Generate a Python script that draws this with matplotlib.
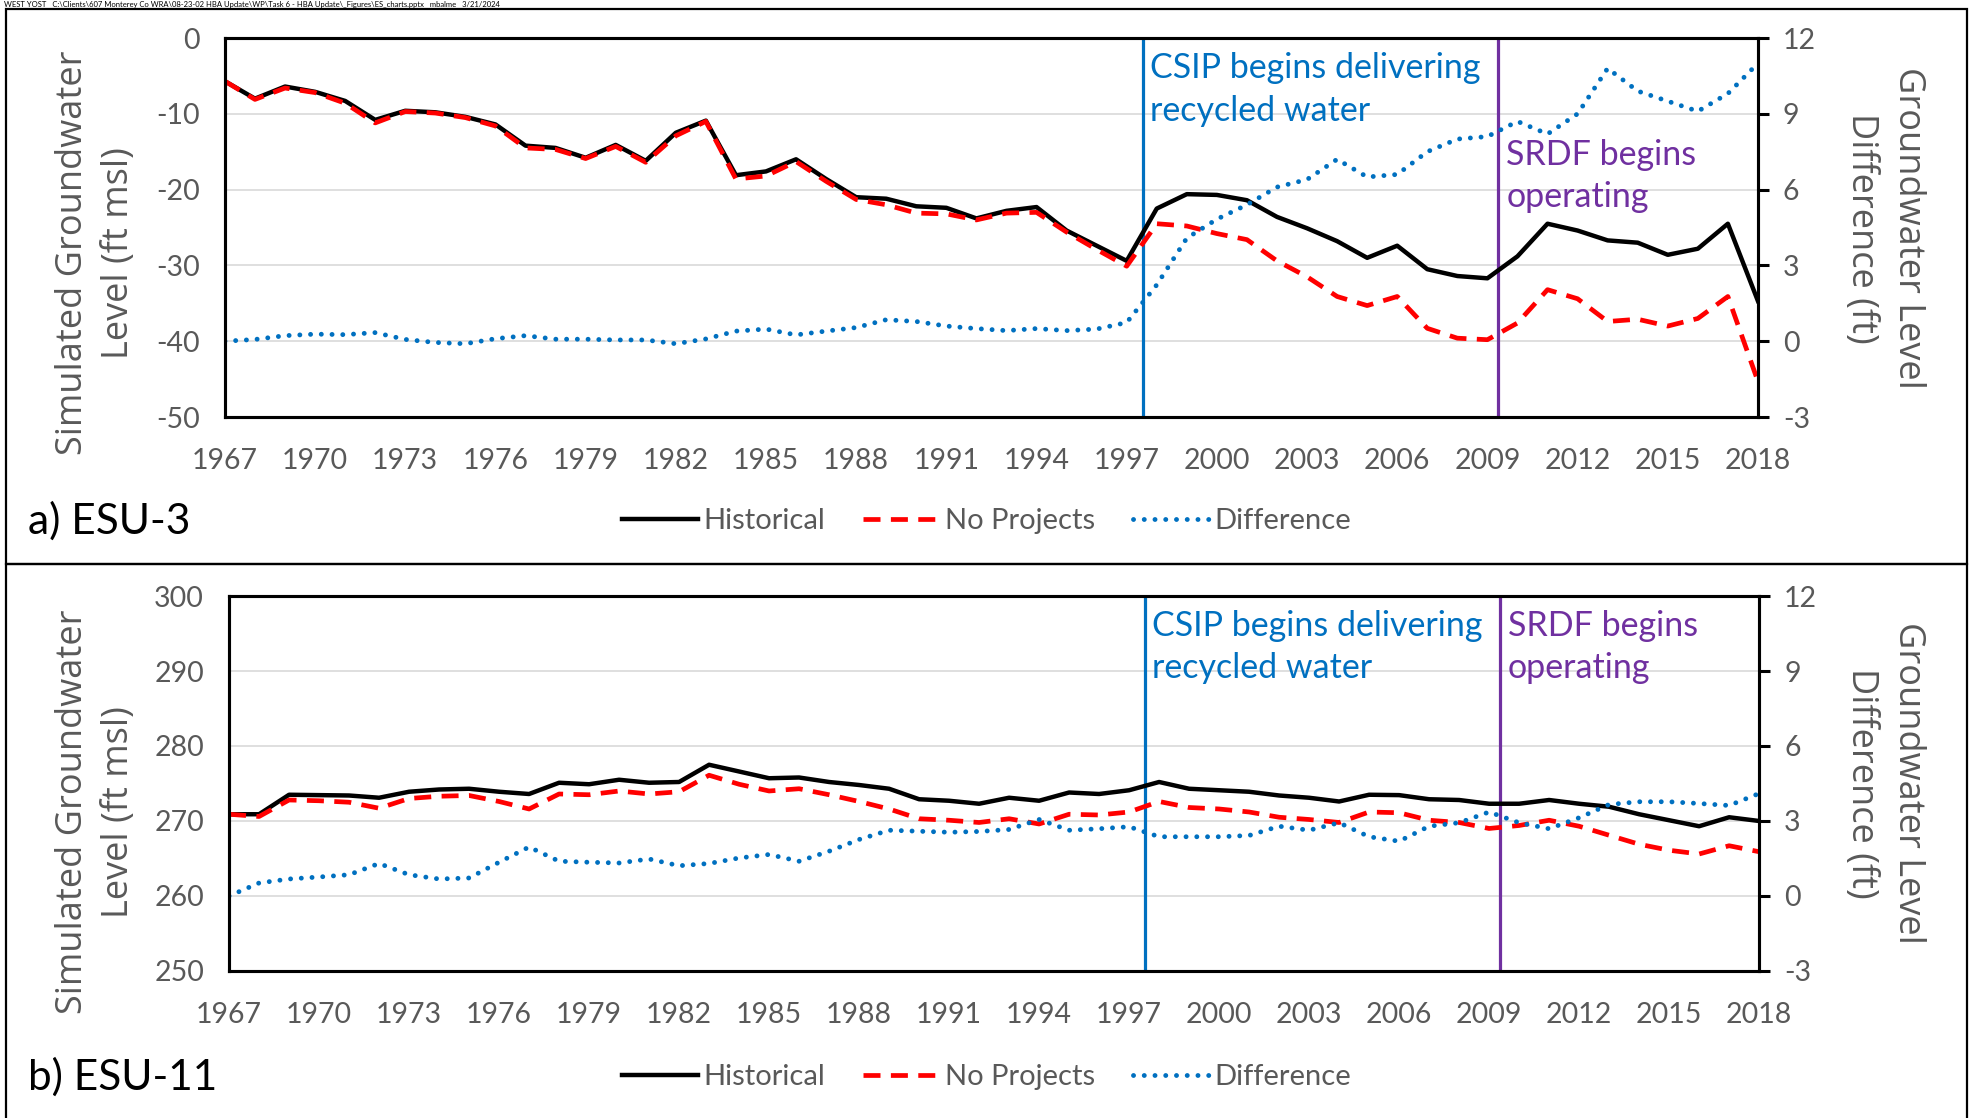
import matplotlib
matplotlib.use("Agg")
import matplotlib.pyplot as plt
from matplotlib.patches import Rectangle

plt.rcParams['font.family'] = ['Lato', 'DejaVu Sans']
plt.rcParams['axes.unicode_minus'] = False

years = list(range(1967, 2019))
xtick_years = years[::3]

esu3_hist = [-5.7, -8.0, -6.4, -7.1, -8.3, -10.8, -9.6, -9.8, -10.4, -11.4,
             -14.2, -14.5, -15.8, -14.1, -16.2, -12.5, -10.9, -18.1, -17.6, -16.0,
             -18.6, -21.0, -21.2, -22.2, -22.4, -23.8, -22.8, -22.3, -25.4, -27.4,
             -29.4, -22.5, -20.6, -20.7, -21.4, -23.6, -25.1, -26.8, -29.0, -27.4,
             -30.5, -31.4, -31.7, -28.8, -24.5, -25.4, -26.7, -27.0, -28.6, -27.8,
             -24.5, -34.7]
esu3_noproj = [-5.7, -8.1, -6.6, -7.2, -8.6, -11.2, -9.7, -9.9, -10.5, -11.6,
               -14.5, -14.7, -15.9, -14.3, -16.4, -12.9, -11.0, -18.6, -18.2, -16.3,
               -18.9, -21.3, -22.0, -23.1, -23.2, -24.0, -23.1, -23.0, -25.6, -27.9,
               -30.1, -24.5, -24.8, -25.8, -26.6, -29.4, -31.5, -34.1, -35.3, -34.1,
               -38.3, -39.6, -39.8, -37.6, -33.2, -34.4, -37.4, -37.1, -38.0, -37.0,
               -34.1, -45.3]
esu3_diff = [0.0, 0.07, 0.22, 0.28, 0.26, 0.34, 0.07, -0.05, -0.1, 0.1,
             0.22, 0.08, 0.08, 0.05, 0.05, -0.1, 0.09, 0.4, 0.48, 0.25,
             0.4, 0.54, 0.85, 0.78, 0.6, 0.5, 0.42, 0.5, 0.42, 0.48,
             0.74, 2.23, 4.08, 4.83, 5.4, 6.1, 6.4, 7.2, 6.5, 6.6,
             7.5, 8.0, 8.1, 8.7, 8.2, 9.0, 10.8, 9.9, 9.5, 9.1,
             9.8, 11.0]

esu11_hist = [270.9, 270.9, 273.5, 273.45, 273.4, 273.1, 273.9, 274.2, 274.3, 273.9,
              273.6, 275.1, 274.9, 275.5, 275.1, 275.2, 277.5, 276.6, 275.7, 275.8,
              275.2, 274.8, 274.3, 272.9, 272.7, 272.3, 273.1, 272.7, 273.8, 273.6,
              274.1, 275.2, 274.3, 274.1, 273.9, 273.4, 273.1, 272.6, 273.5, 273.45,
              272.9, 272.8, 272.3, 272.3, 272.8, 272.3, 271.9, 270.9, 270.1, 269.3,
              270.5, 270.0]
esu11_noproj = [270.9, 270.6, 272.8, 272.7, 272.5, 271.7, 273.0, 273.3, 273.4, 272.6,
                271.6, 273.6, 273.5, 274.0, 273.6, 273.9, 276.1, 274.9, 274.0, 274.3,
                273.5, 272.6, 271.6, 270.3, 270.1, 269.8, 270.3, 269.6, 270.9, 270.8,
                271.2, 272.6, 271.8, 271.6, 271.2, 270.5, 270.2, 269.8, 271.2, 271.1,
                270.1, 269.8, 269.0, 269.4, 270.1, 269.3, 268.1, 266.9, 266.1, 265.6,
                266.7, 265.9]
esu11_diff = [0.0, 0.52, 0.68, 0.76, 0.85, 1.3, 0.85, 0.68, 0.72, 1.35,
              1.96, 1.39, 1.35, 1.32, 1.48, 1.21, 1.3, 1.52, 1.66, 1.39,
              1.79, 2.26, 2.63, 2.59, 2.55, 2.58, 2.66, 3.06, 2.63, 2.69,
              2.77, 2.37, 2.37, 2.37, 2.42, 2.79, 2.63, 2.93, 2.37, 2.19,
              2.79, 2.93, 3.36, 2.93, 2.69, 3.13, 3.66, 3.77, 3.77, 3.7,
              3.62, 4.1]

# event markers (position on the same year axis as the points)
csip_x = 1997.53
srdf_x = 2009.35

GRAY = '#595959'
BLUE = '#0070C0'
PURPLE = '#7030A0'
HEADER = ("WEST YOST   C:\\Clients\\607 Monterey Co WRA\\08-23-02 HBA Update\\WP\\Task 6 - HBA Update"
          "\\_Figures\\ES_charts.pptx   mbalme   3/21/2024")


def draw_panel(fig, rect, hist, noproj, diff, yticks, srdf_y, label, label_y, ylab_y, ylab2_y):
    ax = fig.add_axes(rect)
    ax2 = ax.twinx()

    ax.set_xlim(years[0], years[-1])
    ax.set_ylim(yticks[0], yticks[-1])
    ax.set_yticks(yticks)
    ax.set_xticks(xtick_years)
    ax.grid(axis='y', color='#D9D9D9', lw=1.2, zorder=0)
    ax.set_axisbelow(True)

    ax.axvline(csip_x, color=BLUE, lw=2.3, zorder=1)
    ax.axvline(srdf_x, color=PURPLE, lw=2.3, zorder=1)

    h1, = ax.plot(years, hist, color='black', lw=3.2, zorder=3, label='Historical')
    h2, = ax.plot(years, noproj, color='#FF0000', lw=3.4, ls=(0, (3.6, 2.2)), zorder=4,
                  label='No Projects')
    h3, = ax2.plot(years, diff, color=BLUE, lw=3.5, ls=(0, (0.01, 2.2)),
                   dash_capstyle='round', label='Difference')

    ax2.set_ylim(-3, 12)
    ax2.set_yticks([-3, 0, 3, 6, 9, 12])

    for a in (ax, ax2):
        for s in a.spines.values():
            s.set_linewidth(2.2)
            s.set_color('black')
    ax.tick_params(axis='both', length=0, labelsize=20.5, labelcolor=GRAY)
    ax.tick_params(axis='y', pad=18)
    ax.tick_params(axis='x', pad=22)
    ax2.tick_params(axis='y', length=8, width=2.2, direction='out', labelsize=20.5,
                    labelcolor=GRAY, pad=10)

    ax.annotate("CSIP begins delivering\nrecycled water", xy=(csip_x, 0.864),
                xycoords=('data', 'axes fraction'), xytext=(5, 0), textcoords='offset points',
                ha='left', va='center', fontsize=24.5, color=BLUE, linespacing=1.4)
    ax.annotate("SRDF begins\noperating", xy=(srdf_x, srdf_y),
                xycoords=('data', 'axes fraction'), xytext=(6, 0), textcoords='offset points',
                ha='left', va='center', fontsize=24.5, color=PURPLE, linespacing=1.4)

    fig.text(0.0487, ylab_y, "Simulated Groundwater\nLevel (ft msl)", rotation=90,
             ha='center', va='center', fontsize=26, color=GRAY, family='Open Sans',
             linespacing=1.4)
    fig.text(0.955, ylab2_y, "Groundwater Level\nDifference (ft)", rotation=270,
             ha='center', va='center', fontsize=26, color=GRAY, family='Open Sans',
             linespacing=1.4)

    fig.text(0.0142, label_y, label, ha='left', va='center', fontsize=30.5, color='black')
    fig.legend(handles=[h1, h2, h3], loc='center', bbox_to_anchor=(0.5, label_y),
               ncol=3, frameon=False, fontsize=21, labelcolor=GRAY, handlelength=2.6,
               columnspacing=1.3, handletextpad=0.2)
    return ax, ax2


fig = plt.figure(figsize=(19.73, 11.18), dpi=100)

draw_panel(fig, [0.1140, 0.6270, 0.7770, 0.3390], esu3_hist, esu3_noproj, esu3_diff,
           [-50, -40, -30, -20, -10, 0], 0.636, "a) ESU-3", 0.534, 0.774, 0.796)
draw_panel(fig, [0.1161, 0.1315, 0.7755, 0.3354], esu11_hist, esu11_noproj, esu11_diff,
           [250, 260, 270, 280, 290, 300], 0.864, "b) ESU-11", 0.0365, 0.2737, 0.2996)

# panel frames
fig.patches.append(Rectangle((6 / 1973, 1 - 564 / 1118), 1961 / 1973, 555 / 1118,
                             transform=fig.transFigure, fill=False, ec='black', lw=1.6))
fig.patches.append(Rectangle((6 / 1973, -0.01), 1961 / 1973, 1 - 564 / 1118 + 0.01,
                             transform=fig.transFigure, fill=False, ec='black', lw=1.6))

fig.text(0.002, 0.9995, HEADER, ha='left', va='top', fontsize=5.5, color='black')

fig.savefig("out.png", dpi=100)
